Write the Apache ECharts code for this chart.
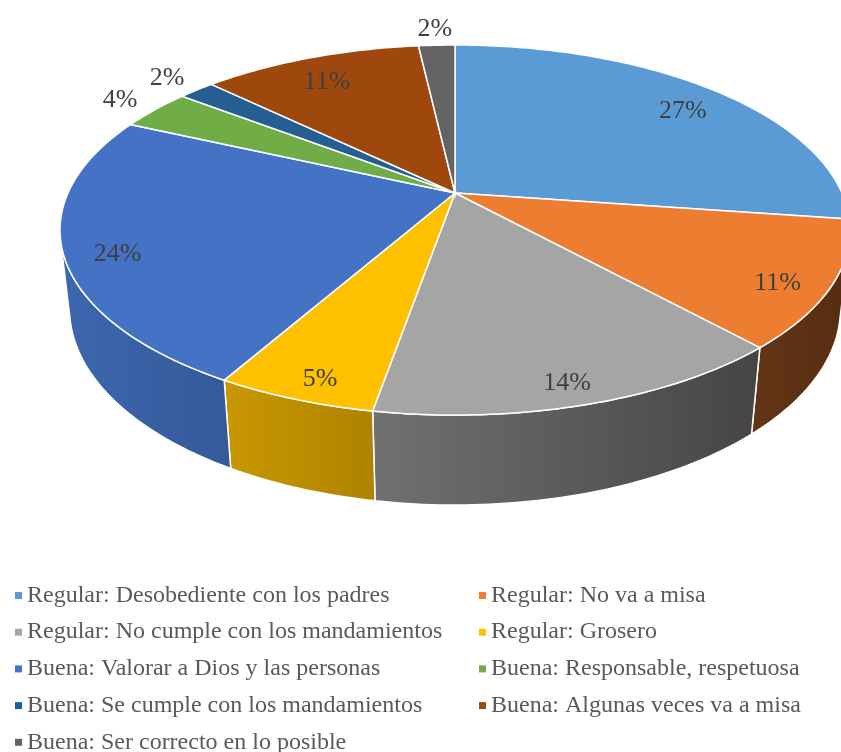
<!DOCTYPE html>
<html>
<head>
<meta charset="utf-8">
<title>Pie 3D</title>
<script src="https://cdn.jsdelivr.net/npm/echarts@6.0.0/dist/echarts.min.js"></script>
<style>
  html, body { margin: 0; padding: 0; background: #fff; }
  #pie-3d { width: 841px; height: 752px; }
</style>
</head>
<body>
<div id="pie-3d"></div>
<script>
// data
var categories = [
  'Regular: Desobediente con los padres',
  'Regular: No va a misa',
  'Regular: No cumple con los mandamientos',
  'Regular: Grosero',
  'Buena: Valorar a Dios y las personas',
  'Buena: Responsable, respetuosa',
  'Buena: Se cumple con los mandamientos',
  'Buena: Algunas veces va a misa',
  'Buena: Ser correcto en lo posible'
];
var values = [27.2, 11.0, 14.4, 5.45, 23.6, 3.6, 1.8, 10.9, 1.8];
var colors = ['#5B9BD5', '#ED7D31', '#A5A5A5', '#FFC000', '#4472C4', '#70AD47', '#255E91', '#9E480E', '#636363'];

var total = values.reduce(function (a, b) { return a + b; }, 0);
var startAngles = [];
var endAngles = [];
var acc = 0;
values.forEach(function (v) {
  startAngles.push(acc / total * 2 * Math.PI);
  acc += v;
  endAngles.push(acc / total * 2 * Math.PI);
});

// simple perspective camera for the disc (radius 1, thickness H)
var CX = 455, CY = 193, S = 387, D = 4.44, H = 0.231;
var sinA = 0.459, cosA = Math.sqrt(1 - sinA * sinA);

function project(theta, r, y) {
  var X = r * Math.sin(theta);
  var Z = -r * Math.cos(theta);
  var yp = y * cosA - Z * sinA;
  var zp = y * sinA + Z * cosA;
  var k = D / (D - zp);
  return [CX + S * X * k, CY - S * yp * k];
}

function arcPoints(a0, a1, r, y) {
  var pts = [];
  var n = Math.max(2, Math.ceil((a1 - a0) / (Math.PI / 180)));
  for (var j = 0; j <= n; j++) {
    pts.push(project(a0 + (a1 - a0) * j / n, r, y));
  }
  return pts;
}

function shade(hex, f) {
  var n = parseInt(hex.slice(1), 16);
  var r = Math.round(((n >> 16) & 255) * f);
  var g = Math.round(((n >> 8) & 255) * f);
  var b = Math.round((n & 255) * f);
  return 'rgb(' + r + ',' + g + ',' + b + ')';
}

function wallFactor(x) {
  var t = Math.min(1, Math.max(0, (x - 60) / 780));
  return 0.9 - 0.54 * t;
}

// outer wall faces the viewer only on the front part
var wallFrom = Math.acos(-1 / (D * cosA));
var wallTo = 2 * Math.PI - wallFrom;

function renderSlice(i) {
  return function (params, api) {
    var a0 = startAngles[i], a1 = endAngles[i];
    var children = [];
    var w0 = Math.max(a0, wallFrom), w1 = Math.min(a1, wallTo);
    if (w1 > w0) {
      var pts = arcPoints(w0, w1, 1, 0).concat(arcPoints(w0, w1, 1, -H).reverse());
      var xs = pts.map(function (p) { return p[0]; });
      var minX = Math.min.apply(null, xs), maxX = Math.max.apply(null, xs);
      children.push({
        type: 'polygon',
        shape: { points: pts },
        style: {
          fill: {
            type: 'linear', x: minX, y: 0, x2: maxX, y2: 0, global: true,
            colorStops: [
              { offset: 0, color: shade(colors[i], wallFactor(minX)) },
              { offset: 1, color: shade(colors[i], wallFactor(maxX)) }
            ]
          },
          stroke: '#fff',
          lineWidth: 1.5
        }
      });
    }
    var topPts = [project(0, 0, 0)].concat(arcPoints(a0, a1, 1, 0));
    children.push({
      type: 'polygon',
      shape: { points: topPts },
      style: { fill: colors[i], stroke: '#fff', lineWidth: 1.5 }
    });
    var pct = values[i] / total * 100;
    var outside = pct < 4.5;
    var lp = outside ? project((a0 + a1) / 2, 1.13, 0) : project((a0 + a1) / 2, 0.87, -0.03);
    children.push({
      type: 'text',
      style: {
        text: Math.round(pct) + '%',
        x: lp[0],
        y: lp[1],
        align: 'center',
        verticalAlign: 'middle',
        fill: '#404040',
        fontSize: 26,
        fontFamily: '"Liberation Serif", "Times New Roman", serif'
      }
    });
    return { type: 'group', children: children };
  };
}

var dom = document.getElementById('pie-3d');
var myChart = echarts.init(dom);
var option;

var legendText = {
  color: '#595959',
  fontSize: 24,
  fontFamily: '"Liberation Serif", "Times New Roman", serif'
};

option = {
  animation: false,
  color: colors,
  legend: [
    {
      data: categories.filter(function (c, i) { return i % 2 === 0; }),
      orient: 'vertical',
      left: 15,
      top: 583.5,
      height: 200,
      padding: 0,
      itemGap: 12.7,
      itemWidth: 7,
      itemHeight: 7,
      icon: 'rect',
      selectedMode: false,
      textStyle: legendText
    },
    {
      data: categories.filter(function (c, i) { return i % 2 === 1; }),
      orient: 'vertical',
      left: 479,
      top: 583.5,
      height: 200,
      padding: 0,
      itemGap: 12.7,
      itemWidth: 7,
      itemHeight: 7,
      icon: 'rect',
      selectedMode: false,
      textStyle: legendText
    }
  ],
  series: categories.map(function (name, i) {
    return {
      name: name,
      type: 'custom',
      coordinateSystem: 'none',
      itemStyle: { color: colors[i] },
      silent: true,
      renderItem: renderSlice(i),
      data: [[values[i]]]
    };
  })
};

if (option && typeof option === 'object') {
  myChart.setOption(option);
}
</script>
</body>
</html>
